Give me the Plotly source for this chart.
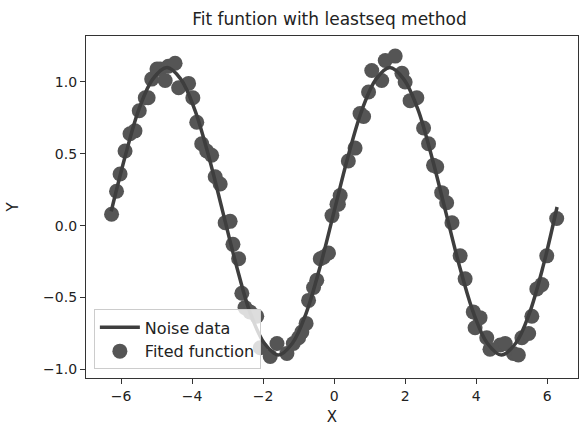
import plotly.graph_objects as go

# Noisy samples (x, y)
noise_x = [-6.27, -6.13, -6.03, -5.89, -5.75, -5.61, -5.49, -5.32, -5.24, -5.14,
           -4.99, -4.90, -4.76, -4.67, -4.48, -4.38, -4.10, -3.98, -3.87, -3.73,
           -3.59, -3.45, -3.35, -3.21, -3.07, -2.93, -2.85, -2.69, -2.60, -2.51,
           -2.37, -2.18, -2.08, -1.80, -1.61, -1.33, -1.15, -1.00, -0.91, -0.79,
           -0.72, -0.58, -0.49, -0.39, -0.30, -0.16, -0.06, 0.08, 0.12, 0.17,
           0.40, 0.59, 0.73, 0.83, 0.97, 1.06, 1.34, 1.44, 1.72, 1.91,
           2.00, 2.14, 2.33, 2.52, 2.66, 2.80, 2.89, 3.03, 3.17, 3.32,
           3.55, 3.69, 3.92, 3.97, 4.11, 4.30, 4.39, 4.68, 4.82, 5.05,
           5.19, 5.29, 5.48, 5.57, 5.71, 5.85, 5.99, 6.27]
noise_y = [0.08, 0.24, 0.36, 0.52, 0.64, 0.66, 0.80, 0.89, 0.89, 1.02,
           1.09, 1.09, 1.01, 1.11, 1.13, 0.96, 0.99, 0.89, 0.72, 0.57,
           0.52, 0.49, 0.34, 0.29, 0.02, 0.03, -0.13, -0.23, -0.47, -0.57,
           -0.60, -0.63, -0.85, -0.91, -0.82, -0.89, -0.82, -0.78, -0.74, -0.68,
           -0.52, -0.43, -0.38, -0.23, -0.22, -0.19, 0.07, 0.15, 0.15, 0.21,
           0.45, 0.54, 0.78, 0.76, 0.93, 1.08, 1.01, 1.15, 1.18, 1.06,
           1.00, 0.87, 0.89, 0.68, 0.57, 0.42, 0.41, 0.23, 0.16, 0.02,
           -0.21, -0.37, -0.60, -0.71, -0.64, -0.78, -0.86, -0.83, -0.82, -0.89,
           -0.90, -0.78, -0.75, -0.63, -0.44, -0.41, -0.21, 0.05]

# Fitted curve sampled along x
fit_x = [-6.28, -5.89, -5.50, -5.11, -4.71, -4.32, -3.93, -3.53, -3.14, -2.75,
         -2.36, -1.96, -1.57, -1.18, -0.79, -0.39, 0.00, 0.39, 0.79, 1.18,
         1.57, 1.96, 2.36, 2.75, 3.14, 3.53, 3.93, 4.32, 4.71, 5.11,
         5.50, 5.89, 6.28]
fit_y = [0.10, 0.48, 0.81, 1.02, 1.10, 1.02, 0.81, 0.48, 0.10, -0.28,
         -0.61, -0.82, -0.90, -0.82, -0.61, -0.28, 0.10, 0.48, 0.81, 1.02,
         1.10, 1.02, 0.81, 0.48, 0.10, -0.28, -0.61, -0.82, -0.90, -0.82,
         -0.61, -0.28, 0.13]

x_ticks = [-6, -4, -2, 0, 2, 4, 6]
y_ticks = [-1.0, -0.5, 0.0, 0.5, 1.0]

fig = go.Figure()
fig.add_trace(go.Scatter(
    x=noise_x, y=noise_y, mode="markers", name="Fited function",
    marker=dict(size=15, color="#555555", line=dict(width=0)),
    legendrank=2,
))
fig.add_trace(go.Scatter(
    x=fit_x, y=fit_y, mode="lines", name="Noise data",
    line=dict(color="#3e3e3e", width=3.5, shape="spline", smoothing=1.0),
    legendrank=1,
))

axis_common = dict(
    showgrid=False, zeroline=False, showline=True, mirror=True,
    linecolor="#333333", linewidth=1.2, ticks="outside", ticklen=5,
    tickcolor="#333333", tickfont=dict(family="DejaVu Sans", size=14, color="#222222"),
)

fig.update_layout(
    width=580, height=426,
    margin=dict(l=86, r=2, t=36, b=48),
    paper_bgcolor="white", plot_bgcolor="white",
    font=dict(family="DejaVu Sans", color="#222222"),
    title=dict(text="Fit funtion with leastseq method", x=0.568, xanchor="center",
               y=0.955, yanchor="middle", font=dict(size=17, color="#222222")),
    xaxis=dict(range=[-6.99, 6.87], tickvals=x_ticks,
               ticktext=["\u22126", "\u22124", "\u22122", "0", "2", "4", "6"],
               title=dict(text="X", standoff=8, font=dict(size=15)), **axis_common),
    yaxis=dict(range=[-1.06, 1.32], tickvals=y_ticks,
               ticktext=["\u22121.0", "\u22120.5", "0.0", "0.5", "1.0"],
               title=dict(text="Y", standoff=20, font=dict(size=15)), **axis_common),
    legend=dict(x=0.016, y=0.025, xanchor="left", yanchor="bottom",
                bgcolor="rgba(255,255,255,0.8)", bordercolor="#cccccc", borderwidth=1,
                font=dict(size=16, color="#222222"), tracegroupgap=0,
                itemwidth=40),
    showlegend=True,
)

fig.write_html("out.html")
